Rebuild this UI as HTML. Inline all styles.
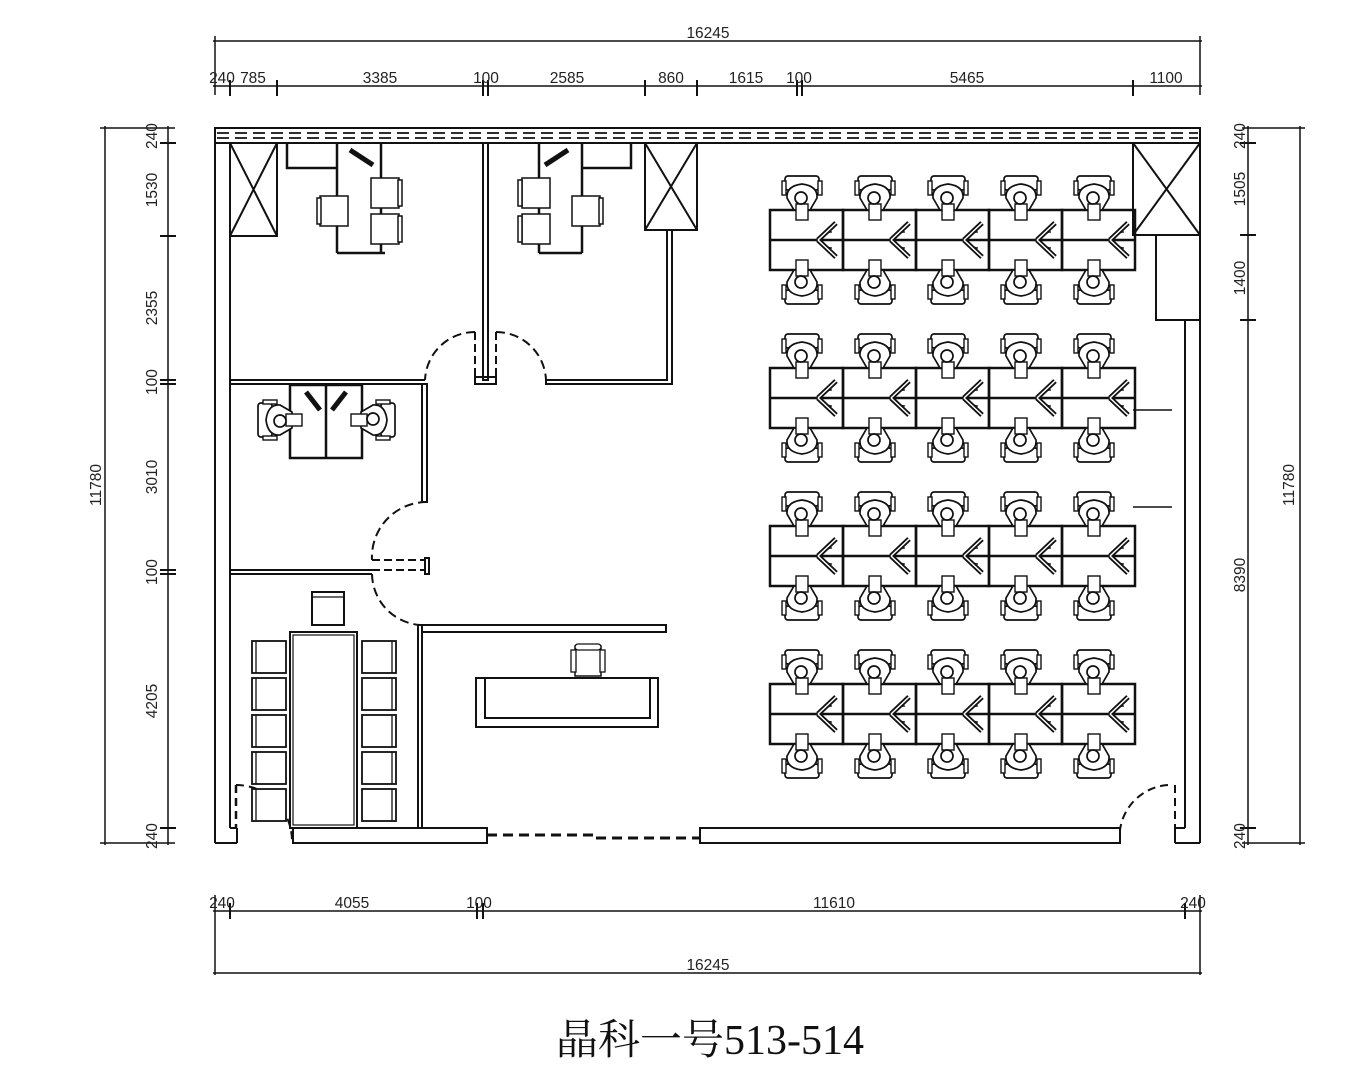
<!DOCTYPE html>
<html><head><meta charset="utf-8"><style>
html,body{margin:0;padding:0;background:#fff;}
svg{display:block}
text{font-family:"Liberation Sans",sans-serif;font-size:15.5px;fill:#222}
</style></head><body>
<svg width="1372" height="1080" viewBox="0 0 1372 1080" xmlns="http://www.w3.org/2000/svg">
<defs>
<g id="pt">
 <rect x="-17" y="-22" width="34" height="14" rx="3" fill="#fff" stroke="#111" stroke-width="1.7"/>
 <rect x="-20" y="-17" width="4" height="14" fill="#fff" stroke="#111" stroke-width="1.4"/>
 <rect x="16" y="-17" width="4" height="14" fill="#fff" stroke="#111" stroke-width="1.4"/>
 <path d="M-15 0 Q-16 -12 0 -14 Q16 -12 15 0 L8 12 L-8 12 Z" fill="#fff" stroke="#111" stroke-width="1.7"/>
 <rect x="-6" y="6" width="12" height="16" fill="#fff" stroke="#111" stroke-width="1.4"/>
 <circle cx="-1" cy="0" r="6" fill="#fff" stroke="#111" stroke-width="1.7"/>
</g>
<g id="ws">
 <rect x="0" y="0" width="73" height="60" fill="none" stroke="#111" stroke-width="2.5"/>
 <line x1="0" y1="30" x2="73" y2="30" stroke="#111" stroke-width="2.5"/>
 <path d="M62 22 A10 10 0 0 0 52 30 A10 10 0 0 0 62 38" fill="none" stroke="#111" stroke-width="1.3"/>
 <line x1="48" y1="30" x2="66" y2="13" stroke="#111" stroke-width="5"/>
 <line x1="48" y1="30" x2="66" y2="47" stroke="#111" stroke-width="5"/>
 <line x1="48" y1="30" x2="66" y2="13" stroke="#fff" stroke-width="1.5"/>
 <line x1="48" y1="30" x2="66" y2="47" stroke="#fff" stroke-width="1.5"/>
 <use href="#pt" transform="translate(32,-12)"/>
 <use href="#pt" transform="translate(32,72) scale(1,-1)"/>
</g>
<g id="ch">
 <rect x="0" y="0" width="34" height="32" fill="#fff" stroke="#111" stroke-width="1.8"/>
 <line x1="30" y1="0" x2="30" y2="32" stroke="#111" stroke-width="1.3"/>
</g>
<g id="sc">
 <rect x="0" y="0" width="26" height="30" fill="#fff" stroke="#111" stroke-width="1.5"/>
 <rect x="-4" y="4" width="5" height="22" fill="#fff" stroke="#111" stroke-width="1.3"/>
 <rect x="25" y="4" width="5" height="22" fill="#fff" stroke="#111" stroke-width="1.3"/>
</g>
</defs>

<g stroke="#111" fill="none" stroke-width="1.5">
<line x1="213" y1="41" x2="1202" y2="41"/>
<line x1="215" y1="36" x2="215" y2="95"/><line x1="1200" y1="36" x2="1200" y2="95"/>
<line x1="213" y1="86" x2="1202" y2="86"/>
<g stroke-width="2">
<line x1="230" y1="80" x2="230" y2="96"/><line x1="277" y1="80" x2="277" y2="96"/>
<line x1="483" y1="80" x2="483" y2="96"/><line x1="488" y1="80" x2="488" y2="96"/>
<line x1="645" y1="80" x2="645" y2="96"/><line x1="697" y1="80" x2="697" y2="96"/>
<line x1="797" y1="80" x2="797" y2="96"/><line x1="802" y1="80" x2="802" y2="96"/>
<line x1="1133" y1="80" x2="1133" y2="96"/>
</g>
<line x1="105" y1="126" x2="105" y2="845"/><line x1="100" y1="128" x2="175" y2="128"/><line x1="100" y1="843" x2="175" y2="843"/>
<line x1="168" y1="126" x2="168" y2="845"/>
<g stroke-width="2">
<line x1="160" y1="143" x2="176" y2="143"/><line x1="160" y1="236" x2="176" y2="236"/>
<line x1="160" y1="380" x2="176" y2="380"/><line x1="160" y1="384" x2="176" y2="384"/>
<line x1="160" y1="570" x2="176" y2="570"/><line x1="160" y1="574" x2="176" y2="574"/>
<line x1="160" y1="828" x2="176" y2="828"/>
</g>
<line x1="1248" y1="126" x2="1248" y2="845"/><line x1="1300" y1="126" x2="1300" y2="845"/>
<line x1="1242" y1="128" x2="1305" y2="128"/><line x1="1242" y1="843" x2="1305" y2="843"/>
<g stroke-width="2">
<line x1="1240" y1="143" x2="1256" y2="143"/><line x1="1240" y1="235" x2="1256" y2="235"/>
<line x1="1240" y1="320" x2="1256" y2="320"/><line x1="1240" y1="828" x2="1256" y2="828"/>
</g>
<line x1="213" y1="911" x2="1202" y2="911"/><line x1="213" y1="973" x2="1202" y2="973"/>
<line x1="215" y1="895" x2="215" y2="975"/><line x1="1200" y1="895" x2="1200" y2="975"/>
<g stroke-width="2">
<line x1="230" y1="903" x2="230" y2="919"/><line x1="477" y1="903" x2="477" y2="919"/>
<line x1="483" y1="903" x2="483" y2="919"/><line x1="1185" y1="903" x2="1185" y2="919"/>
</g>
</g>

<g>
<text x="708" y="38" text-anchor="middle">16245</text>
<text x="222" y="83" text-anchor="middle">240</text>
<text x="253" y="83" text-anchor="middle">785</text>
<text x="380" y="83" text-anchor="middle">3385</text>
<text x="486" y="83" text-anchor="middle">100</text>
<text x="567" y="83" text-anchor="middle">2585</text>
<text x="671" y="83" text-anchor="middle">860</text>
<text x="746" y="83" text-anchor="middle">1615</text>
<text x="799" y="83" text-anchor="middle">100</text>
<text x="967" y="83" text-anchor="middle">5465</text>
<text x="1166" y="83" text-anchor="middle">1100</text>
<text x="222" y="908" text-anchor="middle">240</text>
<text x="352" y="908" text-anchor="middle">4055</text>
<text x="479" y="908" text-anchor="middle">100</text>
<text x="834" y="908" text-anchor="middle">11610</text>
<text x="1193" y="908" text-anchor="middle">240</text>
<text x="708" y="970" text-anchor="middle">16245</text>
<text transform="translate(101,485) rotate(-90)" text-anchor="middle">11780</text>
<text transform="translate(157,136) rotate(-90)" text-anchor="middle">240</text>
<text transform="translate(157,190) rotate(-90)" text-anchor="middle">1530</text>
<text transform="translate(157,308) rotate(-90)" text-anchor="middle">2355</text>
<text transform="translate(157,382) rotate(-90)" text-anchor="middle">100</text>
<text transform="translate(157,477) rotate(-90)" text-anchor="middle">3010</text>
<text transform="translate(157,572) rotate(-90)" text-anchor="middle">100</text>
<text transform="translate(157,701) rotate(-90)" text-anchor="middle">4205</text>
<text transform="translate(157,836) rotate(-90)" text-anchor="middle">240</text>
<text transform="translate(1294,485) rotate(-90)" text-anchor="middle">11780</text>
<text transform="translate(1245,136) rotate(-90)" text-anchor="middle">240</text>
<text transform="translate(1245,189) rotate(-90)" text-anchor="middle">1505</text>
<text transform="translate(1245,278) rotate(-90)" text-anchor="middle">1400</text>
<text transform="translate(1245,575) rotate(-90)" text-anchor="middle">8390</text>
<text transform="translate(1245,836) rotate(-90)" text-anchor="middle">240</text>
<text x="710" y="1054" text-anchor="middle" style="font-family:'Liberation Serif','Noto Serif CJK SC',serif;font-size:42px;fill:#111">晶科一号513-514</text>
</g>

<g stroke="#111" fill="none" stroke-width="2">
<rect x="215" y="128" width="985" height="15"/>
<line x1="217" y1="133" x2="1198" y2="133" stroke-dasharray="12,6" stroke-width="1.8"/>
<line x1="217" y1="138" x2="1198" y2="138" stroke-dasharray="12,6" stroke-width="1.8"/>
<line x1="215" y1="143" x2="215" y2="843"/><line x1="230" y1="143" x2="230" y2="828"/>
<line x1="215" y1="843" x2="237" y2="843"/><line x1="237" y1="828" x2="237" y2="843"/><line x1="230" y1="828" x2="237" y2="828"/>
<line x1="1200" y1="143" x2="1200" y2="843"/><line x1="1185" y1="320" x2="1185" y2="828"/>
<line x1="1175" y1="843" x2="1200" y2="843"/><line x1="1175" y1="828" x2="1175" y2="843"/><line x1="1175" y1="828" x2="1185" y2="828"/>
<line x1="1175" y1="785" x2="1175" y2="828" stroke-dasharray="8,5"/>
<path d="M1168 785 A52 52 0 0 0 1120 830" stroke-dasharray="8,5"/>
<rect x="700" y="828" width="420" height="15"/>
<rect x="293" y="828" width="194" height="15"/>
<path d="M487 835 L595 835 L595 838 L700 838" stroke-dasharray="10,6" stroke-width="3"/>
<rect x="230" y="143" width="47" height="93"/><line x1="230" y1="143" x2="277" y2="236"/><line x1="277" y1="143" x2="230" y2="236"/>
<rect x="645" y="143" width="52" height="87"/><line x1="645" y1="143" x2="697" y2="230"/><line x1="697" y1="143" x2="645" y2="230"/>
<rect x="1133" y="143" width="67" height="92"/><line x1="1133" y1="143" x2="1200" y2="235"/><line x1="1200" y1="143" x2="1133" y2="235"/>
<path d="M1156 235 L1156 320 L1200 320"/><line x1="1185" y1="320" x2="1185" y2="828"/>
<rect x="483" y="143" width="5" height="237"/>
<rect x="475" y="377" width="21" height="7"/>
<line x1="475" y1="332" x2="475" y2="377" stroke-dasharray="8,4"/><line x1="496" y1="332" x2="496" y2="377" stroke-dasharray="8,4"/>
<path d="M475 332 A50 50 0 0 0 425 380" stroke-dasharray="9,5"/>
<path d="M496 332 A50 50 0 0 1 546 380" stroke-dasharray="9,5"/>
<path d="M667 230 L667 380 L546 380 L546 384 L672 384 L672 230"/>
<path d="M230 380 L425 380 M230 384 L422 384"/>
<rect x="422" y="384" width="5" height="118"/>
<path d="M427 502 A55 55 0 0 0 372 560" stroke-dasharray="9,5"/>
<line x1="372" y1="560" x2="425" y2="560" stroke-dasharray="8,4"/><line x1="372" y1="570" x2="425" y2="570" stroke-dasharray="8,4"/>
<rect x="425" y="558" width="4" height="16"/>
<path d="M230 570 L372 570 M230 574 L372 574"/>
<path d="M372 574 A52 52 0 0 0 420 625" stroke-dasharray="9,5"/>
<rect x="418" y="625" width="4" height="203"/>
<rect x="422" y="625" width="244" height="7"/>
<line x1="236" y1="785" x2="236" y2="828" stroke-dasharray="8,5" stroke-width="2.5"/>
<path d="M236 785 A56 56 0 0 1 292 842" stroke-dasharray="8,5"/>
<rect x="476" y="678" width="182" height="49"/>
<path d="M485 678 L485 718 L650 718 L650 678"/>
</g>
<use href="#sc" transform="translate(575,646)"/>
<rect x="575" y="644" width="26" height="6" rx="3" fill="#fff" stroke="#111" stroke-width="1.3"/>
<g stroke="#111" fill="none" stroke-width="2">
<rect x="290" y="632" width="67" height="196"/><rect x="293" y="635" width="61" height="190" stroke-width="1.2"/>
<rect x="312" y="592" width="32" height="33"/><line x1="312" y1="597" x2="344" y2="597" stroke-width="1.2"/>
</g>
<g>
<use href="#ch" transform="translate(286,641) scale(-1,1)"/><use href="#ch" transform="translate(286,678) scale(-1,1)"/>
<use href="#ch" transform="translate(286,715) scale(-1,1)"/><use href="#ch" transform="translate(286,752) scale(-1,1)"/>
<use href="#ch" transform="translate(286,789) scale(-1,1)"/>
<use href="#ch" transform="translate(362,641)"/><use href="#ch" transform="translate(362,678)"/>
<use href="#ch" transform="translate(362,715)"/><use href="#ch" transform="translate(362,752)"/>
<use href="#ch" transform="translate(362,789)"/>
</g>
<g stroke="#111" fill="none" stroke-width="2.5">
<path d="M287 143 L287 168 L337 168"/><line x1="337" y1="143" x2="337" y2="253"/><line x1="337" y1="253" x2="385" y2="253"/><line x1="381" y1="143" x2="381" y2="253"/>
<path d="M631 143 L631 168 L582 168"/><line x1="582" y1="143" x2="582" y2="253"/><line x1="539" y1="253" x2="582" y2="253"/><line x1="539" y1="143" x2="539" y2="253"/>
<line x1="350" y1="150" x2="373" y2="165" stroke-width="5"/>
<line x1="568" y1="150" x2="545" y2="165" stroke-width="5"/>
</g>
<g stroke="#111" fill="#fff" stroke-width="1.5">
<rect x="320" y="196" width="28" height="30"/><rect x="317" y="198" width="4" height="26"/>
<rect x="371" y="178" width="28" height="30"/><rect x="398" y="180" width="4" height="26"/>
<rect x="371" y="214" width="28" height="30"/><rect x="398" y="216" width="4" height="26"/>
<rect x="522" y="178" width="28" height="30"/><rect x="518" y="180" width="4" height="26"/>
<rect x="522" y="214" width="28" height="30"/><rect x="518" y="216" width="4" height="26"/>
<rect x="572" y="196" width="28" height="30"/><rect x="599" y="198" width="4" height="26"/>
</g>
<g stroke="#111" fill="none" stroke-width="2.5">
<rect x="290" y="385" width="72" height="73"/><line x1="326" y1="385" x2="326" y2="458"/>
<line x1="306" y1="392" x2="320" y2="410" stroke-width="5"/><line x1="346" y1="392" x2="332" y2="410" stroke-width="5"/>
</g>
<use href="#pt" transform="translate(280,420) rotate(-90)"/>
<use href="#pt" transform="translate(373,420) rotate(90)"/>
<g>
<use href="#ws" transform="translate(770,210)"/><use href="#ws" transform="translate(843,210)"/><use href="#ws" transform="translate(916,210)"/><use href="#ws" transform="translate(989,210)"/><use href="#ws" transform="translate(1062,210)"/>
<use href="#ws" transform="translate(770,368)"/><use href="#ws" transform="translate(843,368)"/><use href="#ws" transform="translate(916,368)"/><use href="#ws" transform="translate(989,368)"/><use href="#ws" transform="translate(1062,368)"/>
<use href="#ws" transform="translate(770,526)"/><use href="#ws" transform="translate(843,526)"/><use href="#ws" transform="translate(916,526)"/><use href="#ws" transform="translate(989,526)"/><use href="#ws" transform="translate(1062,526)"/>
<use href="#ws" transform="translate(770,684)"/><use href="#ws" transform="translate(843,684)"/><use href="#ws" transform="translate(916,684)"/><use href="#ws" transform="translate(989,684)"/><use href="#ws" transform="translate(1062,684)"/>
</g>
<g stroke="#111" stroke-width="1.5">
<line x1="1133" y1="410" x2="1172" y2="410"/><line x1="1133" y1="507" x2="1172" y2="507"/>
</g>
</svg>
</body></html>
